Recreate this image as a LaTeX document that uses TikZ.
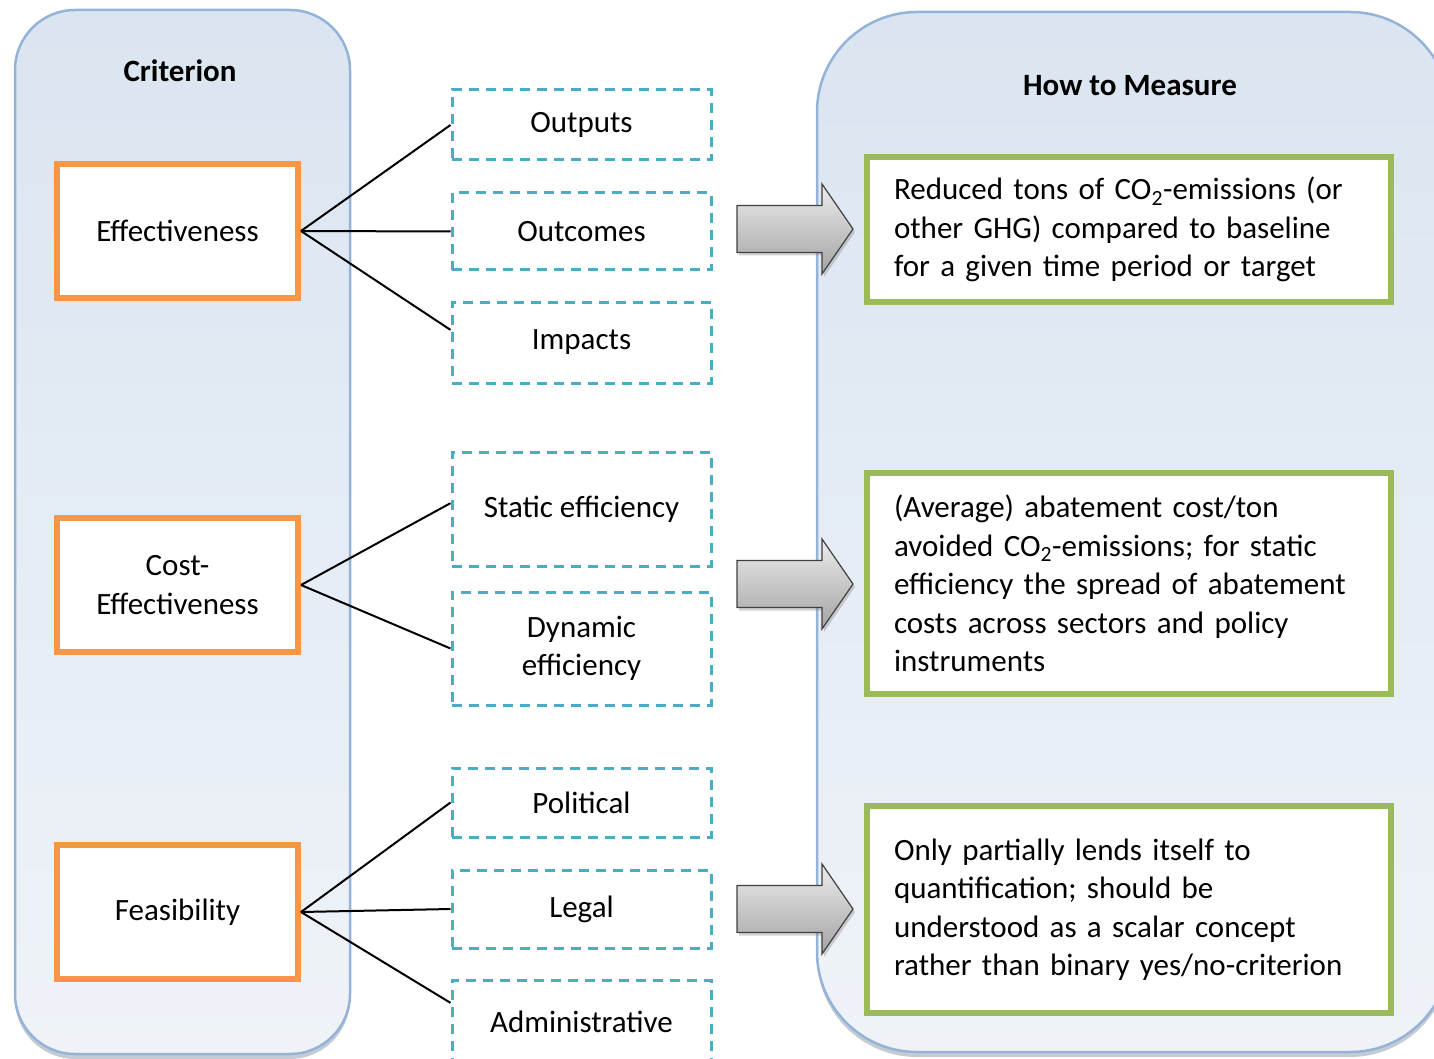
\documentclass[tikz,border=0pt]{standalone}
\usepackage{fontspec}
\setmainfont{Carlito}
\usetikzlibrary{shadows,calc}
\definecolor{orangeb}{HTML}{F79646}
\definecolor{greenb}{HTML}{9BBB59}
\definecolor{cyanb}{HTML}{4BACC6}
\definecolor{panelb}{HTML}{95B3D7}
\definecolor{paneltop}{HTML}{DAE5F1}
\definecolor{panelbot}{HTML}{EFF3F8}
\begin{document}
\begin{tikzpicture}[x=1pt,y=-1pt,
  font=\fontsize{31}{38.5}\selectfont,
  panel/.style={draw=panelb, line width=2.5pt, top color=paneltop, bottom color=panelbot,
    inner sep=0pt, outer sep=0pt,
    drop shadow={shadow xshift=0pt, shadow yshift=-5pt, opacity=0.35, fill=panelb!60!black}},
  ttl/.style={font=\fontsize{31}{38.5}\selectfont\bfseries},
  obox/.style={draw=orangeb, line width=6pt, fill=white, minimum width=241pt,
    minimum height=134pt, align=center, inner sep=0pt},
  dbox/.style={draw=cyanb, line width=3pt, dash pattern=on 10pt off 7pt, fill=white,
    minimum width=259pt, align=center, inner sep=0pt},
  gbox/.style={draw=greenb, line width=6pt, fill=white, text width=470pt,
    inner xsep=27pt, inner ysep=0pt, align=left},
  conn/.style={draw=black, line width=2pt},
  arrowstyle/.style={draw=gray!50!black, line width=1.2pt, top color=gray!15, bottom color=gray!72,
    drop shadow={shadow xshift=2pt, shadow yshift=-3pt, opacity=0.35}},
  pics/blockarrow/.style={code={
    \path[arrowstyle] (0,-23.5) -- (85,-23.5) -- (85,-45) -- (116,0) -- (85,45)
      -- (85,23.5) -- (0,23.5) -- cycle;}}
]
\useasboundingbox (0,0) rectangle (1434,1059);
\clip (0,0) rectangle (1434,1059);

% panels
\node[panel, rounded corners=60pt, minimum width=335pt, minimum height=1044pt] (lp) at (182.5,532) {};
\node[panel, rounded corners=100pt, minimum width=633pt, minimum height=1040pt] (rp) at (1133.5,532) {};

\node[ttl] (crit) at (180,71) {Criterion};
\node[ttl] (howm) at (1130,86) {How to Measure};

% criteria
\node[obox] (eff) at (177.5,231) {Effectiveness};
\node[obox] (cost) at (177.5,585) {Cost-\\Effectiveness};
\node[obox] (feas) at (177.5,912) {Feasibility};

% sub criteria
\node[dbox, minimum height=70pt] (out) at (581.5,125) {Outputs};
\node[dbox, minimum height=77pt] (outc) at (581.5,231.5) {Outcomes};
\node[dbox, minimum height=81pt] (imp) at (581.5,342.5) {Impacts};
\node[dbox, minimum height=114pt] (stat) at (581.5,509) {Static efficiency};
\node[dbox, minimum height=113pt] (dyn) at (581.5,648.5) {Dynamic\\efficiency};
\node[dbox, minimum height=69pt] (pol) at (581.5,802.5) {Political};
\node[dbox, minimum height=78pt] (leg) at (581.5,909) {Legal};
\node[dbox, minimum height=84pt] (adm) at (581.5,1022) {Administrative};

% connectors
\draw[conn] (eff.east) -- (out.west);
\draw[conn] (eff.east) -- (outc.west);
\draw[conn] (eff.east) -- ($(imp.north west)!0.35!(imp.south west)$);
\draw[conn] (cost.east) -- ($(stat.north west)!0.45!(stat.south west)$);
\draw[conn] (cost.east) -- (dyn.west);
\draw[conn] (feas.east) -- (pol.west);
\draw[conn] (feas.east) -- (leg.west);
\draw[conn] (feas.east) -- ($(adm.north west)!0.28!(adm.south west)$);

% block arrows
\pic at (737,229) {blockarrow};
\pic at (737,584) {blockarrow};
\pic at (737,909) {blockarrow};

% measures
\node[gbox, minimum height=145pt] (g1) at (1129,229.5)
  {Reduced tons of CO\textsubscript{2}-emissions (or\\other GHG) compared to baseline\\for a given time period or target};
\node[gbox, minimum height=221pt] (g2) at (1129,583.5)
  {(Average) abatement cost/ton\\avoided CO\textsubscript{2}-emissions; for static\\efficiency the spread of abatement\\costs across sectors and policy\\instruments};
\node[gbox, minimum height=207pt] (g3) at (1129,909.5)
  {Only partially lends itself to\\quantification; should be\\understood as a scalar concept\\rather than binary yes/no-criterion\\[8pt]};
\end{tikzpicture}
\end{document}
